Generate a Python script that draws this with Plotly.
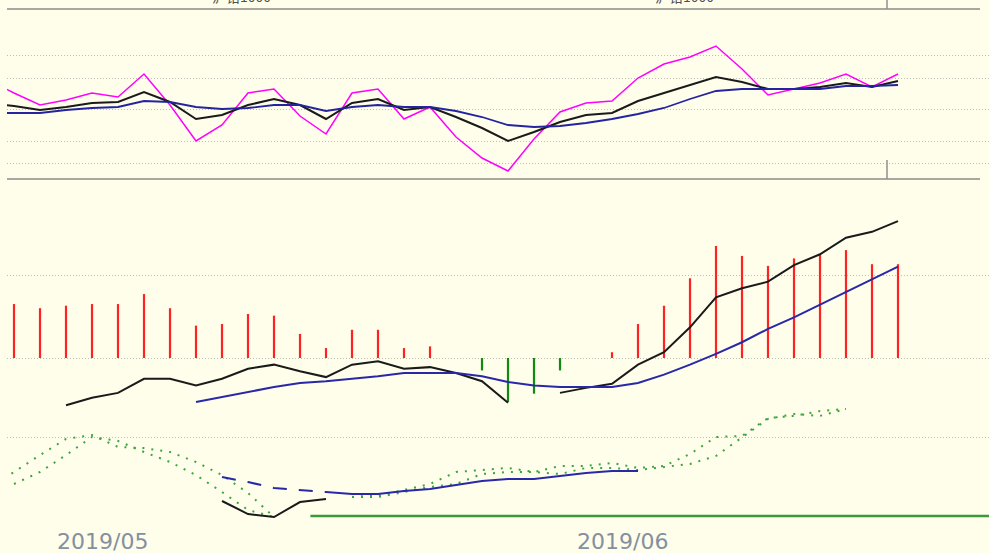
import plotly.graph_objects as go

# ---------------- data ----------------
idx_top = list(range(-1, 35))
top_magenta = [99, 86, 74, 79, 86, 82, 105, 74, 38, 54, 86, 90, 63, 45, 86, 90, 60, 72, 42, 21,
               8, 40, 67, 76, 78, 101, 115, 122, 133, 110, 84, 90, 96, 105, 92, 105]
top_black = [76, 73, 69, 72, 76, 77, 87, 77, 60, 64, 74, 80, 74, 60, 76, 80, 69, 72, 62, 51,
             38, 47, 57, 64, 66, 78, 86, 94, 102, 97, 90, 90, 92, 96, 92, 98]
top_blue = [66, 66, 66, 69, 71, 72, 78, 77, 72, 70, 71, 74, 74, 68, 72, 74, 72, 72, 68, 62,
            54, 52, 53, 56, 60, 65, 71, 80, 88, 90, 90, 90, 90, 93, 93, 94]
top_grid = [16, 38, 70, 101, 124]

idx_mid = list(range(0, 35))
macd_bars = [0.65, 0.60, 0.63, 0.65, 0.65, 0.77, 0.60, 0.39, 0.41, 0.53,
             0.51, 0.29, 0.12, 0.34, 0.34, 0.12, 0.14, 0.0, -0.15, -0.53,
             -0.43, -0.15, 0.0, 0.07, 0.41, 0.63, 0.96, 1.35, 1.23, 1.11,
             1.20, 1.25, 1.30, 1.13, 1.13]
mid_black = [None, None, -0.57, -0.48, -0.42, -0.25, -0.25, -0.33, -0.25, -0.13,
             -0.08, -0.16, -0.23, -0.08, -0.04, -0.13, -0.11, -0.18, -0.28, -0.54,
             None, -0.42, -0.36, -0.31, -0.08, 0.07, 0.37, 0.73, 0.84, 0.92,
             1.12, 1.25, 1.45, 1.52, 1.65]
mid_blue = [None, None, None, None, None, None, None, -0.53, -0.47, -0.41,
            -0.35, -0.30, -0.28, -0.25, -0.22, -0.18, -0.18, -0.18, -0.22, -0.29,
            -0.33, -0.35, -0.35, -0.35, -0.30, -0.20, -0.08, 0.05, 0.19, 0.35,
            0.49, 0.64, 0.80, 0.95, 1.10]
mid_grid = [0, 1]

idx_bot = list(range(-1, 35))
bot_green_a = [42, 53.4, 66.3, 78.5, 81.5, 72.4, 71.6, 68.6, 61.0, 51.1, 37.5,
               19.2, None, None, 36.7, 35.2, 39.7, 44.3, 53.4, 54.9, 56.5,
               53.4, 58.0, 58.0, 60.3, 56.5, 58.0, 67.1, 80.0, 80.8, 94.4,
               96.0, 99.7, 101.3, None, None]
bot_green_b = [None, 44.3, 53.4, 66.3, 80.0, 77.0, 68.6, 61.0, 51.1, 38.2, 24.6,
               19.2, None, None, 34.4, 34.4, 38.2, 42.0, 44.3, 51.9, 53.4,
               53.4, 51.9, 56.5, 56.5, 54.9, 57.2, 59.5, 65.6, 80.0, 93.7,
               97.5, 96.0, 101.3, None, None]
idx_blue_dash = [8, 9, 10, 11, 12]
bot_blue_dash = [49.6, 45.8, 41.3, 39.7, 38.2]
idx_blue_solid = list(range(12, 25))
bot_blue_solid = [38.2, 36.7, 36.7, 39.0, 40.5, 43.5, 46.6, 48.1, 48.1, 50.4, 52.7, 54.2, 54.2]
idx_bot_black = [8, 9, 10, 11, 12]
bot_black = [31.4, 21.5, 19.2, 30.6, 32.9]
bot_grid = [80]
level_value = 20
level_start = 11.4

month_labels = ["2019/05", "2019/06"]
header_labels = ["沪铅1000", "沪铅1000"]

# ---------------- figure ----------------
BG = "#FEFEEB"
GRID = "#BEBEB8"
fig = go.Figure()

fig.add_trace(go.Scatter(x=idx_top, y=top_magenta, mode="lines",
                         line=dict(color="#FF00FF", width=1.5), xaxis="x", yaxis="y"))
fig.add_trace(go.Scatter(x=idx_top, y=top_black, mode="lines",
                         line=dict(color="#1A1A1A", width=2), xaxis="x", yaxis="y"))
fig.add_trace(go.Scatter(x=idx_top, y=top_blue, mode="lines",
                         line=dict(color="#2424A0", width=1.8), xaxis="x", yaxis="y"))

bar_colors = ["#FF2222" if v >= 0 else "#118A11" for v in macd_bars]
fig.add_trace(go.Bar(x=idx_mid, y=macd_bars, width=0.085, marker=dict(color=bar_colors, line=dict(width=0)),
                     xaxis="x2", yaxis="y2"))
fig.add_trace(go.Scatter(x=idx_mid, y=mid_black, mode="lines", connectgaps=False,
                         line=dict(color="#1A1A1A", width=2), xaxis="x2", yaxis="y2"))
fig.add_trace(go.Scatter(x=idx_mid, y=mid_blue, mode="lines",
                         line=dict(color="#2828A8", width=2), xaxis="x2", yaxis="y2"))

fig.add_trace(go.Scatter(x=idx_bot, y=bot_green_a, mode="lines", connectgaps=False,
                         line=dict(color="#3DA53D", width=2, dash="2px,7px"), xaxis="x2", yaxis="y3"))
fig.add_trace(go.Scatter(x=idx_bot, y=bot_green_b, mode="lines", connectgaps=False,
                         line=dict(color="#3DA53D", width=2, dash="2px,7px"), xaxis="x2", yaxis="y3"))
fig.add_trace(go.Scatter(x=idx_blue_dash, y=bot_blue_dash, mode="lines",
                         line=dict(color="#2828A8", width=2, dash="14px,12px"), xaxis="x2", yaxis="y3"))
fig.add_trace(go.Scatter(x=idx_blue_solid, y=bot_blue_solid, mode="lines",
                         line=dict(color="#2828A8", width=2), xaxis="x2", yaxis="y3"))
fig.add_trace(go.Scatter(x=idx_bot_black, y=bot_black, mode="lines",
                         line=dict(color="#1A1A1A", width=2), xaxis="x2", yaxis="y3"))

W, H = 989, 558
xr = [(7 - 14) / 26, (989 - 14) / 26]
xdom = [7 / W, 1]
top_dom = [1 - 179 / H, 1 - 9 / H]
mid_dom = [5 / H, 1 - 180 / H]

axis_common = dict(showticklabels=False, ticks="", zeroline=False, showline=False)
fig.update_layout(
    width=W, height=H, margin=dict(l=0, r=0, t=0, b=0),
    paper_bgcolor=BG, plot_bgcolor=BG, showlegend=False, hovermode=False,
    xaxis=dict(domain=xdom, range=xr, anchor="y", showgrid=False, **axis_common),
    xaxis2=dict(domain=xdom, range=xr, anchor="y2", matches="x", showgrid=False, **axis_common),
    yaxis=dict(domain=top_dom, range=[0, 170], tickvals=top_grid, showgrid=True,
               gridcolor=GRID, gridwidth=1, griddash="1px,2px", **axis_common),
    yaxis2=dict(domain=mid_dom, range=[(358 - 553) / 83, (358 - 180) / 83], tickvals=mid_grid,
                showgrid=True, gridcolor=GRID, gridwidth=1, griddash="1px,2px", **axis_common),
    yaxis3=dict(overlaying="y2", range=[80 - (553 - 437) * 60 / 79, 80 + (437 - 180) * 60 / 79],
                tickvals=bot_grid, showgrid=True, gridcolor=GRID, gridwidth=1, griddash="1px,2px",
                **axis_common),
    font=dict(family="DejaVu Sans"),
)

shapes = [
    dict(type="line", xref="paper", yref="paper", x0=7 / W, x1=980 / W, y0=1 - 9 / H, y1=1 - 9 / H,
         line=dict(color="#A8A8A0", width=2)),
    dict(type="line", xref="paper", yref="paper", x0=7 / W, x1=980 / W, y0=1 - 179 / H, y1=1 - 179 / H,
         line=dict(color="#A8A8A0", width=2)),
    dict(type="line", xref="paper", yref="paper", x0=887 / W, x1=887 / W, y0=1, y1=1 - 9 / H,
         line=dict(color="#909090", width=1.5)),
    dict(type="line", xref="paper", yref="paper", x0=887 / W, x1=887 / W, y0=1 - 160 / H, y1=1 - 179 / H,
         line=dict(color="#909090", width=1.5)),
    dict(type="line", xref="x2", yref="y3", x0=level_start, x1=xr[1], y0=level_value, y1=level_value,
         line=dict(color="#3A9A3A", width=2.5)),
    dict(type="rect", xref="paper", yref="paper", x0=0, x1=1, y0=0, y1=5 / H,
         fillcolor="#FFFFFF", line=dict(width=0), layer="above"),
]
fig.update_layout(shapes=shapes)

annotations = []
for lab, px in zip(month_labels, [55, 575]):
    annotations.append(dict(text=lab, xref="paper", yref="paper", x=px / W, y=1 - 541 / H,
                            xanchor="left", yanchor="middle", showarrow=False,
                            font=dict(family="DejaVu Sans", size=22, color="#8390A2")))
for lab, px in zip(header_labels, [210, 653]):
    annotations.append(dict(text=lab, xref="paper", yref="paper", x=px / W, y=1 - 8 / H,
                            xanchor="left", yanchor="bottom", showarrow=False,
                            font=dict(family="Noto Sans CJK SC", size=14, color="#505050")))
fig.update_layout(annotations=annotations)

fig.write_html("out.html", config={"displayModeBar": False, "staticPlot": True},
               post_script="document.body.style.margin='0';document.body.style.background='" + BG + "';")
